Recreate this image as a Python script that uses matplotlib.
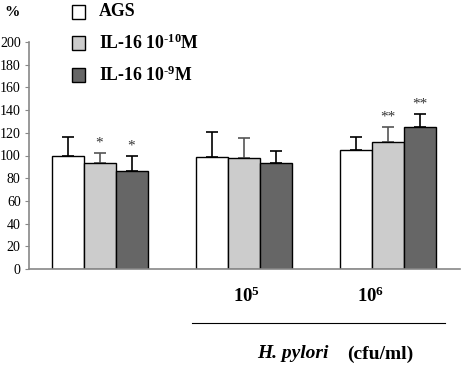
import numpy as np
import matplotlib
matplotlib.use("Agg")
import matplotlib.pyplot as plt
from matplotlib.patches import Rectangle
from matplotlib.lines import Line2D

plt.rcParams['font.family'] = ['Liberation Serif', 'DejaVu Serif']
plt.rcParams['mathtext.fontset'] = 'custom'
plt.rcParams['mathtext.rm'] = 'Liberation Serif:bold'
plt.rcParams['mathtext.bf'] = 'Liberation Serif:bold'
plt.rcParams['mathtext.it'] = 'Liberation Serif:bold:italic'

# Data
series_names = ['AGS', 'IL-16 10$^{\u2010 10}$M', 'IL-16 10$^{\u2010 9}$M']
colors = ['white', '#cccccc', '#666666']
err_colors = ['black', '#555555', 'black']
group_labels = ['', '10$^{5}$', '10$^{6}$']
label_px = [None, 247, 371]
ags = [100, 99, 105]
il16_low = [93, 98, 112]
il16_high = [86, 93, 125]
ags_err = [16, 22, 11]
il16_low_err = [9, 17, 13]
il16_high_err = [14, 11, 12]
marks_low = ['*', '', '**']
marks_high = ['*', '', '**']

values = [ags, il16_low, il16_high]
errors = [ags_err, il16_low_err, il16_high_err]
marks = [None, marks_low, marks_high]

W, H = 462, 370
fig = plt.figure(figsize=(W / 100, H / 100), dpi=100)
ax = fig.add_axes([29 / W, 1 - 269 / H, 431 / W, 227 / H])

x = np.arange(3)
width = 0.222
for i in range(3):
    pos = x + (i - 1) * width
    ax.bar(pos, values[i], width, color=colors[i], edgecolor='black', linewidth=1.0, zorder=2)
    ax.errorbar(pos, values[i], yerr=[np.zeros(3), errors[i]], fmt='none',
                ecolor=err_colors[i], elinewidth=1.2, capsize=4, capthick=1.2, zorder=1)
    if marks[i] is not None:
        for p, v, e, m in zip(pos, values[i], errors[i], marks[i]):
            if m:
                ax.text(p, v + e + 3, m, ha='center', va='bottom', fontsize=11, color='#333333')

ax.set_xlim(-0.49, 2.503)
ax.set_ylim(0, 200)
ax.set_yticks(range(0, 201, 20))
ax.tick_params(axis='y', direction='out', length=3, labelsize=10, color='#888888', pad=3)
ax.set_xticks([])
for s in ['top', 'right']:
    ax.spines[s].set_visible(False)
for s in ['left', 'bottom']:
    ax.spines[s].set_color('#888888')
    ax.spines[s].set_linewidth(1.2)

# group labels under the axis
for lab, px in zip(group_labels, label_px):
    if lab:
        fig.text(px / W, 1 - 296 / H, lab, ha='center', va='center', fontsize=13.5, fontweight='bold')

fig.add_artist(Line2D([192 / W, 445 / W], [1 - 323 / H] * 2, color='black', linewidth=0.8))
fig.text(257 / W, 1 - 354 / H, 'H. pylori', ha='left', va='center',
         fontsize=14, fontweight='bold', fontstyle='italic')
fig.text(347 / W, 1 - 354 / H, '(cfu/ml)', ha='left', va='center', fontsize=14, fontweight='bold')

fig.text(12 / W, 1 - 13 / H, '%', ha='center', va='center', fontsize=11, fontweight='bold')

# manual legend
leg_y = [12, 43, 75]
for name, c, yy in zip(series_names, colors, leg_y):
    fig.add_artist(Rectangle((72 / W, 1 - (yy + 7) / H), 13 / W, 14 / H,
                             facecolor=c, edgecolor='black', linewidth=1.0,
                             transform=fig.transFigure))
    fig.text(99 / W, 1 - yy / H, name, ha='left', va='center', fontsize=12.8, fontweight='bold')

fig.savefig('out.png', dpi=100)
